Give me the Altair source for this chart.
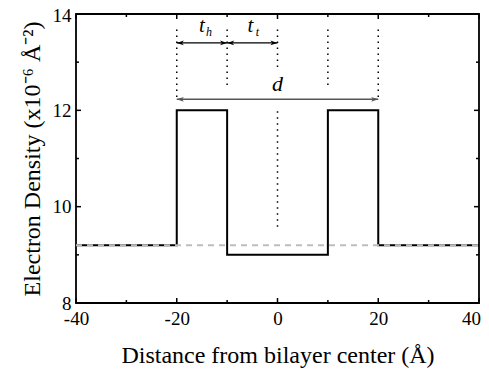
import altair as alt
import pandas as pd

# Step profile (step-after interpolation)
profile_x = [-40, -20, -10, 10, 20, 40]
profile_y = [9.2, 12.0, 9.0, 12.0, 9.2, 9.2]

# Dashed reference level
ref_x = [-40, 40]
ref_y = [9.2, 9.2]

# Dotted guide lines
guide_x = [-20, -10, 0, 0, 10, 20]
guide_top = [13.68, 13.68, 13.68, 11.98, 13.68, 13.68]
guide_bot = [12.19, 12.44, 12.85, 9.53, 12.44, 12.19]

# Dimension arrows
arrow_name = ["th", "tt", "d"]
arrow_x1 = [-20, -10, -20]
arrow_x2 = [-10, 0, 20]
arrow_y = [13.4, 13.4, 12.23]
arrow_color = ["black", "black", "#555555"]

# Labels
lab_x = [-15.0, -5.4]
lab_y = [13.75, 13.75]
lab_main = ["t", "t"]
lab_sub = ["h", "t"]
d_x = [0]
d_y = [12.55]
d_text = ["d"]

# Axis ticks
x_major = [-40, -20, 0, 20, 40]
x_minor = [-30, -10, 10, 30]
y_major = [8, 10, 12, 14]
y_minor = [9, 11, 13]

W, H = 403, 289
FONT = "Liberation Serif"

xscale = alt.Scale(domain=[-40, 40], nice=False, zero=False)
yscale = alt.Scale(domain=[8, 14], nice=False, zero=False)
xaxis = alt.Axis(values=x_major, title="Distance from bilayer center (Å)",
                 labelPadding=6, titlePadding=15, labelFlush=False,
                 labelOverlap=False, labelBound=False,
                 labelOffset={"condition": {"test": "datum.value == 40", "value": -8}, "value": 0},
                 labelExpr="'' + datum.value")
yaxis = alt.Axis(values=y_major, title="Electron Density (x10⁻⁶ Å⁻²)",
                 labelPadding=5, titlePadding=8, labelFlush=False,
                 labelOverlap=False, labelBound=False,
                 labelOffset={"condition": {"test": "datum.value == 14", "value": 1}, "value": 0},
                 labelExpr="'' + datum.value")

def X(f="x"):
    return alt.X(f"{f}:Q", scale=xscale, axis=xaxis)

def Y(f="y"):
    return alt.Y(f"{f}:Q", scale=yscale, axis=yaxis)

prof = pd.DataFrame({"x": profile_x, "y": profile_y})
ref = pd.DataFrame({"x": ref_x, "y": ref_y})
guides = pd.DataFrame({"x": guide_x, "y": guide_top, "y2": guide_bot})
arrows = pd.DataFrame({"name": arrow_name, "x": arrow_x1, "x2": arrow_x2,
                       "y": arrow_y, "c": arrow_color})
labs = pd.DataFrame({"x": lab_x, "y": lab_y, "m": lab_main, "s": lab_sub})
dlab = pd.DataFrame({"x": d_x, "y": d_y, "t": d_text})

line = alt.Chart(prof).mark_line(color="black", strokeWidth=2,
                                 interpolate="step-after").encode(x=X(), y=Y())
dashed = alt.Chart(ref).mark_line(color="#bdbdbd", strokeWidth=2,
                                  strokeDash=[6, 5]).encode(x=X(), y=Y())
dotted = alt.Chart(guides).mark_rule(color="black", strokeWidth=1.5,
                                     strokeDash=[1.5, 4.5]).encode(
    x=X(), y=Y(), y2="y2:Q")
arrow_lines = alt.Chart(arrows).mark_rule(strokeWidth=1.3).encode(
    x=X(), x2="x2:Q", y=Y(), color=alt.Color("c:N", scale=None))

right_head = "M0,0L-1.5,-0.5L-1.1,0L-1.5,0.5Z"
left_head = "M0,0L1.5,-0.5L1.1,0L1.5,0.5Z"
heads_r = alt.Chart(arrows).mark_point(shape=right_head, filled=True, size=90,
                                       opacity=1).encode(
    x=X("x2"), y=Y(), color=alt.Color("c:N", scale=None))
heads_l = alt.Chart(arrows).mark_point(shape=left_head, filled=True, size=90,
                                       opacity=1).encode(
    x=X("x"), y=Y(), color=alt.Color("c:N", scale=None))

t_main = alt.Chart(labs).mark_text(font=FONT, fontSize=21, fontStyle="italic",
                                   color="black").encode(x=X(), y=Y(), text="m:N")
t_sub = alt.Chart(labs).mark_text(font=FONT, fontSize=12, fontStyle="italic",
                                  color="black", dx=7, dy=6).encode(x=X(), y=Y(), text="s:N")
d_txt = alt.Chart(dlab).mark_text(font=FONT, fontSize=22, fontStyle="italic",
                                  color="black").encode(x=X(), y=Y(), text="t:N")

def xticks(vals, length):
    df = pd.DataFrame({"x": vals})
    b = alt.Chart(df).mark_rule(color="black", strokeWidth=1.5).encode(
        x=X(), y=alt.value(H), y2=alt.value(H - length))
    t = alt.Chart(df).mark_rule(color="black", strokeWidth=1.5).encode(
        x=X(), y=alt.value(0), y2=alt.value(length))
    return [b, t]

def yticks(vals, length):
    df = pd.DataFrame({"y": vals})
    l = alt.Chart(df).mark_rule(color="black", strokeWidth=1.5).encode(
        y=Y(), x=alt.value(0), x2=alt.value(length))
    r = alt.Chart(df).mark_rule(color="black", strokeWidth=1.5).encode(
        y=Y(), x=alt.value(W), x2=alt.value(W - length))
    return [l, r]

ticks = xticks(x_major, 5) + xticks(x_minor, 3) + yticks(y_major, 5) + yticks(y_minor, 3)

chart = alt.layer(
    line, dashed, dotted, arrow_lines, heads_r, heads_l, t_main, t_sub, d_txt, *ticks
).properties(
    width=W, height=H,
    autosize=alt.AutoSizeParams(type="none"),
    padding={"left": 68, "top": 6, "right": 2, "bottom": 66},
    background="white",
).configure(
    font=FONT
).configure_view(
    stroke="black", strokeWidth=1.8
).configure_axis(
    grid=False, ticks=False, domain=False,
    labelFont=FONT, labelFontSize=19, labelColor="black",
    titleFont=FONT, titleFontSize=24, titleColor="black", titleFontWeight="normal",
)

chart.save("out.html", embed_options={"renderer": "svg", "actions": False})
